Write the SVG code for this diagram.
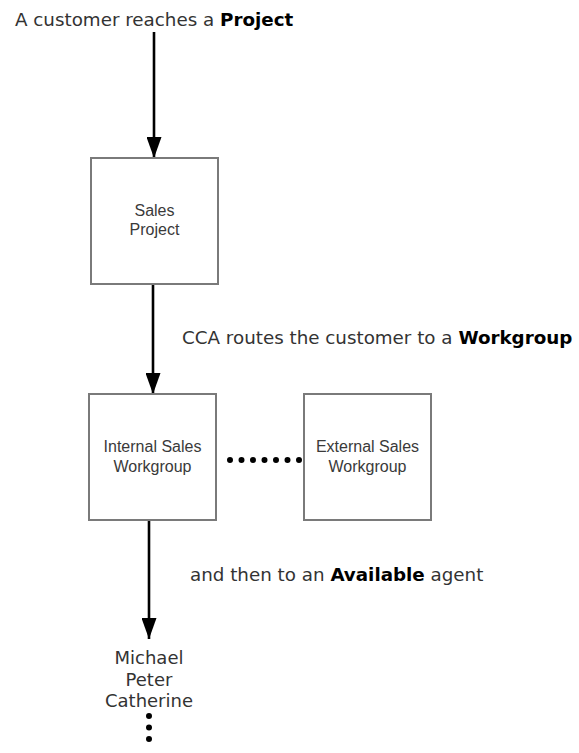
<svg xmlns="http://www.w3.org/2000/svg" width="579" height="753" viewBox="0 0 579 753">
  <defs>
    <style>
      .box { fill: #ffffff; stroke: #7a7a7a; stroke-width: 2; }
      .boxlabel { font-family: "Liberation Sans", Arial, sans-serif; font-size: 16px; fill: #3a3a3a; text-anchor: middle; }
      .note { font-family: "DejaVu Sans", Verdana, sans-serif; font-size: 18.3px; fill: #333333; }
      .note .em { font-weight: bold; fill: #000000; }
      .agent { font-family: "DejaVu Sans", Verdana, sans-serif; font-size: 18px; fill: #333333; text-anchor: middle; }
      .flow { stroke: #000000; stroke-width: 2.6; fill: none; }
      .dots { stroke: #000000; stroke-width: 6; stroke-linecap: round; stroke-dasharray: 0 11.5; fill: none; }
    </style>
    <marker id="arrow" markerUnits="userSpaceOnUse" markerWidth="21" markerHeight="15" refX="21" refY="7.5" orient="auto" viewBox="0 0 21 15">
      <path d="M0,0 L21,7.5 L0,15 Z" fill="#000000"/>
    </marker>
  </defs>

  <!-- captions -->
  <text class="note" x="15" y="26">A customer reaches a <tspan class="em">Project</tspan></text>
  <text class="note" x="182" y="344">CCA routes the customer to a <tspan class="em">Workgroup</tspan></text>
  <text class="note" x="190" y="581">and then to an <tspan class="em">Available</tspan> agent</text>

  <!-- connectors -->
  <g id="connectors">
    <line class="flow" x1="154" y1="32" x2="154" y2="158" marker-end="url(#arrow)"/>
    <line class="flow" x1="153" y1="284" x2="153" y2="394" marker-end="url(#arrow)"/>
    <line class="flow" x1="149" y1="520" x2="149" y2="639" marker-end="url(#arrow)"/>
    <line class="dots" x1="230" y1="460" x2="299.5" y2="460"/>
    <line class="dots" x1="149" y1="716" x2="149" y2="750.5"/>
  </g>

  <!-- nodes -->
  <g id="sales-project">
    <rect class="box" x="91" y="158" width="127" height="126"/>
    <text class="boxlabel" x="154.5" y="216">Sales</text>
    <text class="boxlabel" x="154.5" y="235">Project</text>
  </g>

  <g id="internal-sales-workgroup">
    <rect class="box" x="89" y="394" width="127" height="126"/>
    <text class="boxlabel" x="152.5" y="452">Internal Sales</text>
    <text class="boxlabel" x="152.5" y="472">Workgroup</text>
  </g>

  <g id="external-sales-workgroup">
    <rect class="box" x="304" y="394" width="127" height="126"/>
    <text class="boxlabel" x="367.5" y="452">External Sales</text>
    <text class="boxlabel" x="367.5" y="472">Workgroup</text>
  </g>

  <g id="agents">
    <text class="agent" x="149" y="664">Michael</text>
    <text class="agent" x="149" y="686">Peter</text>
    <text class="agent" x="149" y="707">Catherine</text>
  </g>
</svg>
